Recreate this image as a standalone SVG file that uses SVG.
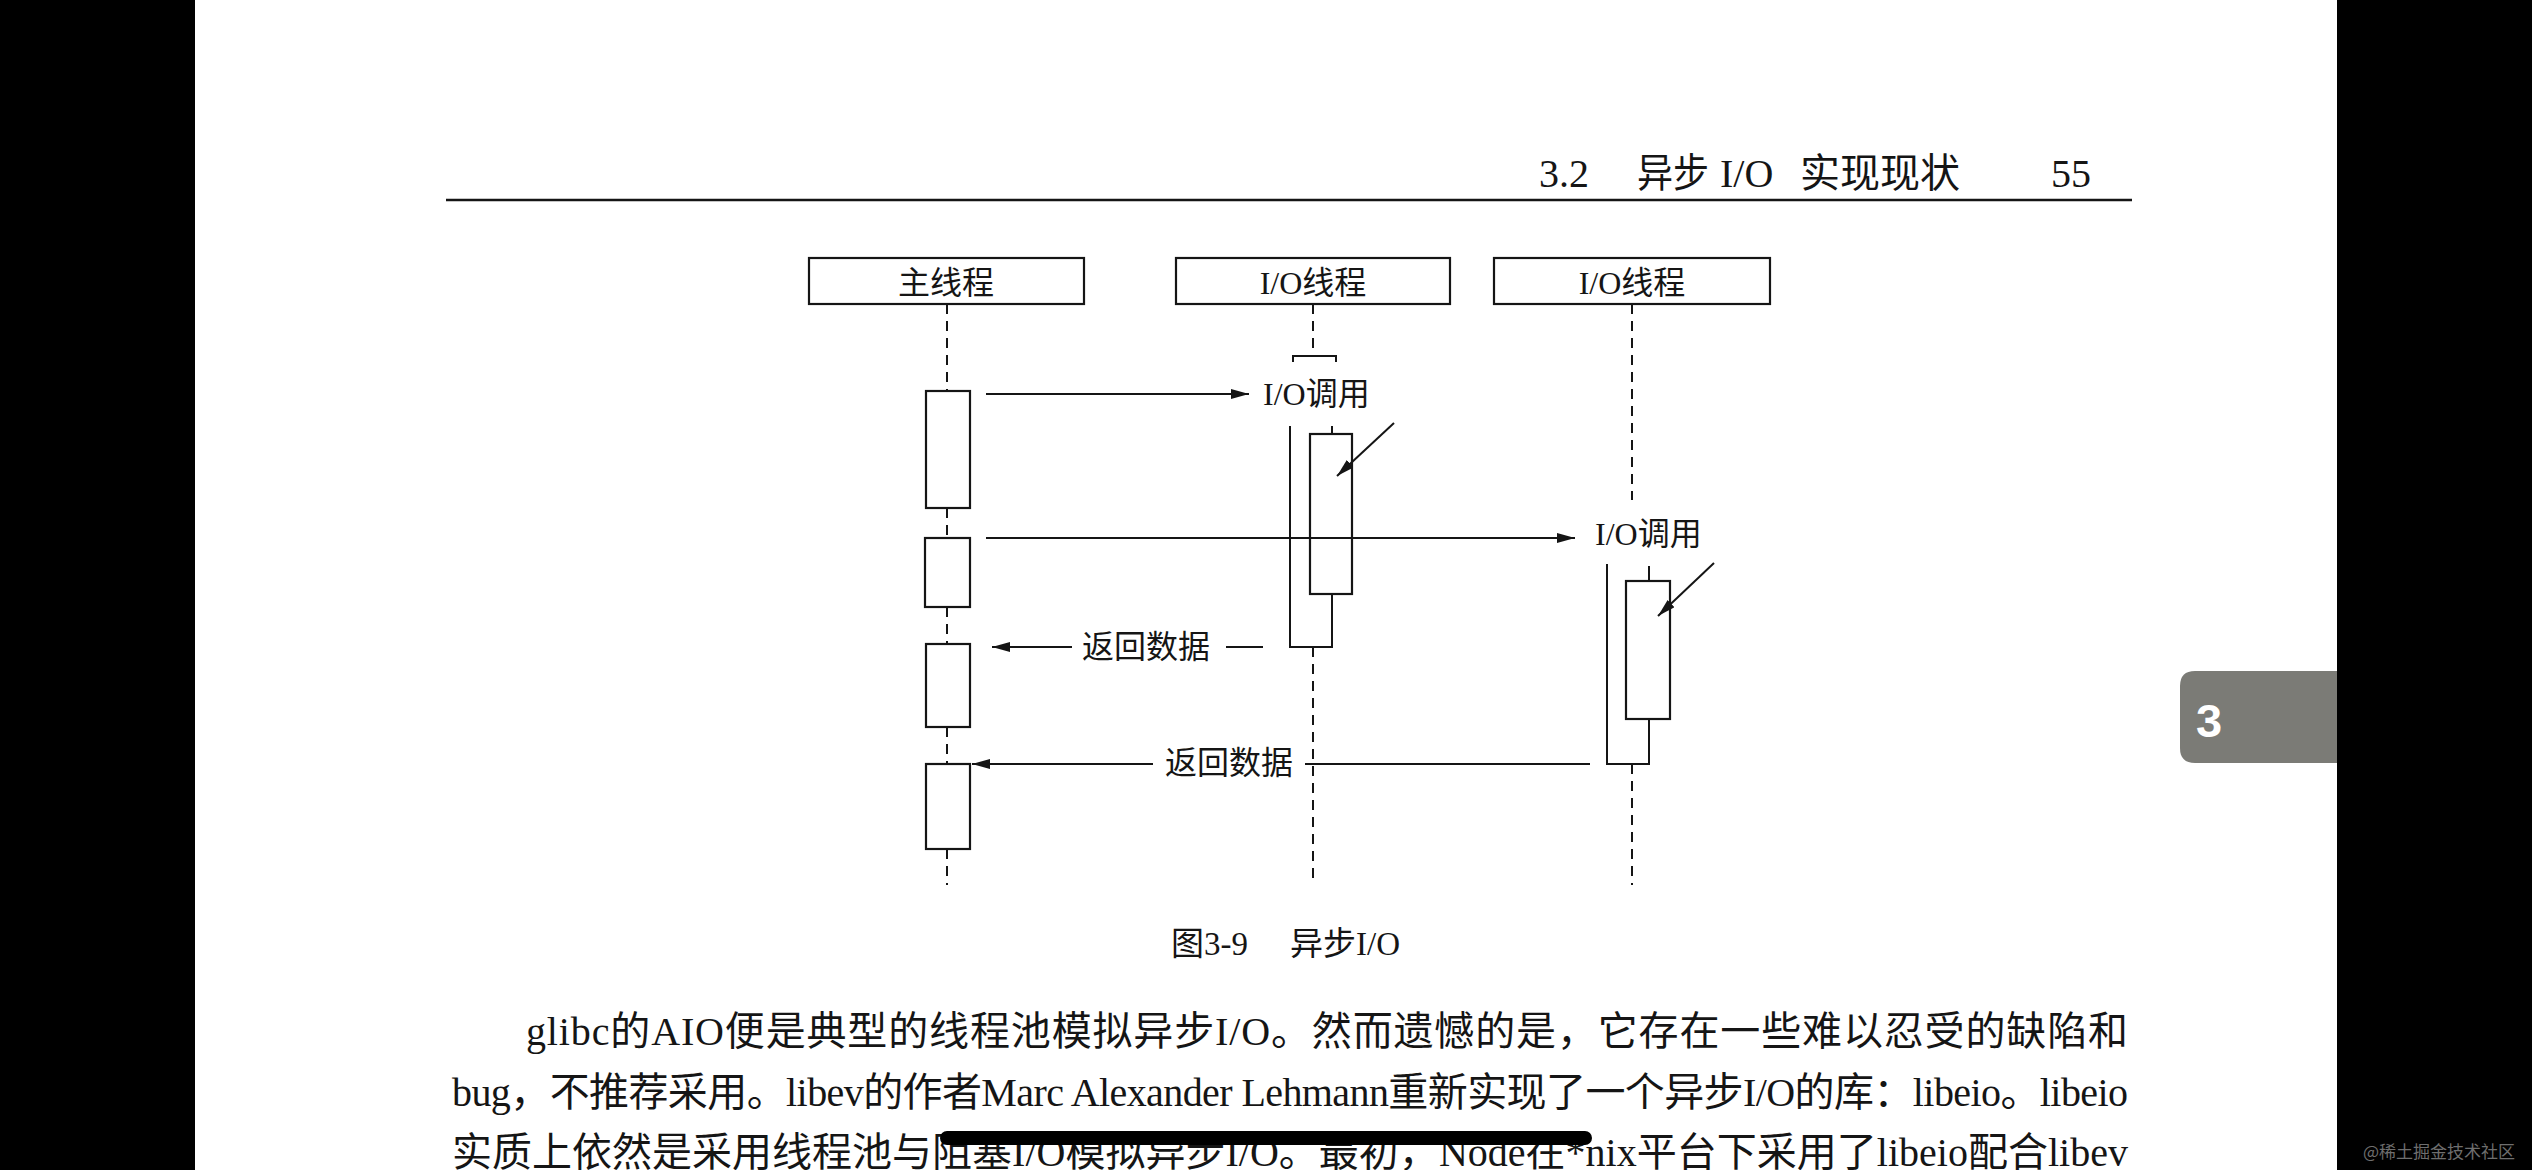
<svg xmlns="http://www.w3.org/2000/svg" width="2532" height="1170" viewBox="0 0 2532 1170">
<style>
.bg{fill:#ffffff}
.blk{fill:#000000}
.ln{stroke:#151515;stroke-width:2;fill:none}
.box{stroke:#151515;stroke-width:2.2;fill:#ffffff}
.dash{stroke:#151515;stroke-width:2;stroke-dasharray:10 7;fill:none}
.t{font-family:"Liberation Serif","Noto Sans CJK SC",serif;fill:#151515}
.lbl{font-size:32px}
.hdr{font-size:40px}
.body{font-size:40px}
.cap{font-size:33px}
</style>
<defs>
<marker id="ah" markerUnits="userSpaceOnUse" markerWidth="18" markerHeight="10" refX="18" refY="5" orient="auto">
<path d="M0,0 L18,5 L0,10 Z" fill="#151515"/>
</marker>
</defs>
<rect class="bg" x="0" y="0" width="2532" height="1170"/>
<rect class="blk" x="0" y="0" width="195" height="1170"/>
<g id="header">
<text class="t hdr" x="1539" y="187">3.2</text>
<text class="t hdr" x="1637" y="187" textLength="72" lengthAdjust="spacingAndGlyphs">异步</text>
<text class="t hdr" x="1720" y="187">I/O</text>
<text class="t hdr" x="1800" y="187" textLength="160" lengthAdjust="spacingAndGlyphs">实现现状</text>
<text class="t hdr" x="2051" y="187">55</text>
<line x1="446" y1="200" x2="2132" y2="200" stroke="#151515" stroke-width="2.5"/>
</g>
<g id="lifelines">
<path class="dash" d="M947,304 V391 M947,508 V538 M947,607 V644 M947,727 V764 M947,849 V885"/>
<path class="dash" d="M1313,304 V356 M1313,647 V885"/>
<path class="dash" d="M1632,304 V500 M1632,764 V885"/>
</g>
<g id="main-thread">
<rect class="box" x="809" y="258" width="275" height="46"/>
<text class="t lbl" x="946" y="294" text-anchor="middle">主线程</text>
</g>
<g id="io-thread-1">
<rect class="box" x="1176" y="258" width="274" height="46"/>
<text class="t lbl" x="1313" y="294" text-anchor="middle">I/O线程</text>
</g>
<g id="io-thread-2">
<rect class="box" x="1494" y="258" width="276" height="46"/>
<text class="t lbl" x="1632" y="294" text-anchor="middle">I/O线程</text>
</g>
<g id="main-activations">
<rect class="box" x="926" y="391" width="44" height="117"/>
<rect class="box" x="925" y="538" width="45" height="69"/>
<rect class="box" x="926" y="644" width="44" height="83"/>
<rect class="box" x="926" y="764" width="44" height="85"/>
</g>
<g id="io1-activation">
<path class="ln" d="M1293,362 V356 H1336 V362"/>
<path class="ln" d="M1290,426 V647 H1332 V594 M1332,426 V434"/>
<rect class="box" x="1310" y="434" width="42" height="160"/>
</g>
<g id="io2-activation">
<path class="ln" d="M1607,564 V764 H1649 V719 M1649,566 V581"/>
<rect class="box" x="1626" y="581" width="44" height="138"/>
</g>
<g id="connectors">
<line class="ln" x1="986" y1="394" x2="1249" y2="394" marker-end="url(#ah)"/>
<line class="ln" x1="986" y1="538" x2="1575" y2="538" marker-end="url(#ah)"/>
<line class="ln" x1="1263" y1="647" x2="1226" y2="647"/>
<line class="ln" x1="1072" y1="647" x2="992" y2="647" marker-end="url(#ah)"/>
<line class="ln" x1="1590" y1="764" x2="1305" y2="764"/>
<line class="ln" x1="1153" y1="764" x2="972" y2="764" marker-end="url(#ah)"/>
<line class="ln" x1="1394" y1="423" x2="1337" y2="476" marker-end="url(#ah)"/>
<line class="ln" x1="1714" y1="563" x2="1658" y2="616" marker-end="url(#ah)"/>
</g>
<g id="labels">
<text class="t lbl" x="1263" y="405">I/O调用</text>
<text class="t lbl" x="1595" y="545">I/O调用</text>
<text class="t lbl" x="1082" y="658">返回数据</text>
<text class="t lbl" x="1165" y="774">返回数据</text>
</g>
<g id="caption">
<text class="t cap" x="1171" y="955">图3-9</text>
<text class="t cap" x="1290" y="955">异步I/O</text>
</g>
<g id="body">
<text class="t body" x="526" y="1045" textLength="1602" lengthAdjust="spacing">glibc的AIO便是典型的线程池模拟异步I/O。然而遗憾的是，它存在一些难以忍受的缺陷和</text>
<text class="t body" x="452" y="1106" textLength="1676" lengthAdjust="spacing">bug，不推荐采用。libev的作者Marc Alexander Lehmann重新实现了一个异步I/O的库：libeio。libeio</text>
<text class="t body" x="452" y="1166" textLength="1676" lengthAdjust="spacing">实质上依然是采用线程池与阻塞I/O模拟异步I/O。最初，Node在*nix平台下采用了libeio配合libev</text>
</g>
<rect class="blk" x="940" y="1131" width="652" height="14" rx="7"/>
<g id="tab">
<path d="M2337,671 H2195 Q2180,671 2180,686 V748 Q2180,763 2195,763 H2337 Z" fill="#7b7b76"/>
<text x="2209" y="737" text-anchor="middle" font-family="Liberation Sans, Arial, sans-serif" font-weight="bold" font-size="47" fill="#ffffff">3</text>
</g>
<rect class="blk" x="2337" y="0" width="195" height="1170"/>
<text x="2363" y="1158" font-family="Noto Sans CJK SC, sans-serif" font-size="17" fill="#6e6e6e">@稀土掘金技术社区</text>
</svg>
